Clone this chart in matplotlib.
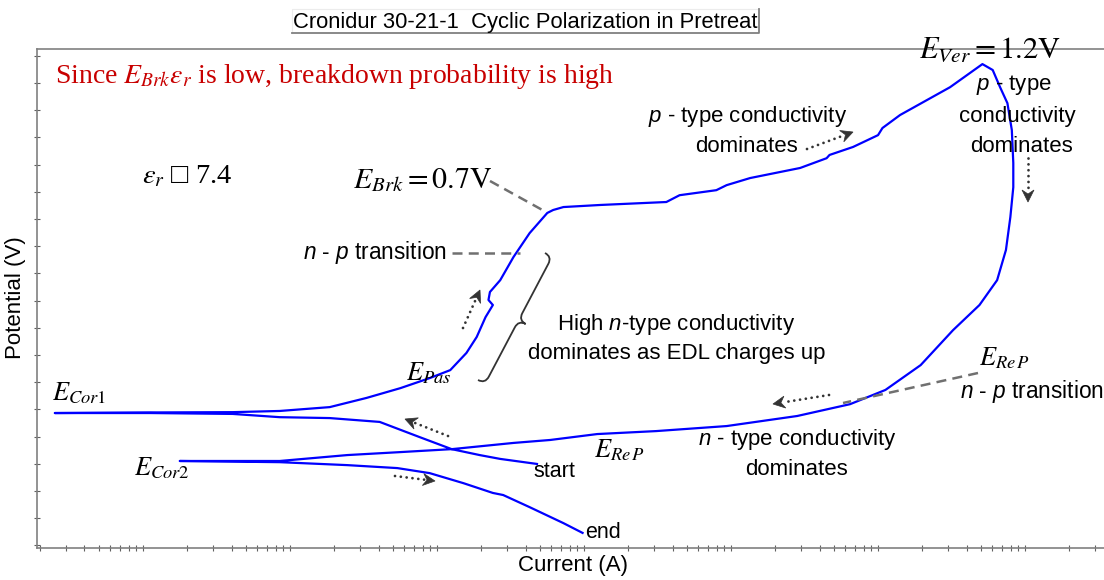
import numpy as np
import matplotlib.pyplot as plt
from matplotlib.lines import Line2D
from matplotlib.path import Path
from matplotlib.patches import PathPatch, Polygon
from matplotlib.ticker import LogLocator, FixedLocator, NullFormatter

plt.rcParams['font.family'] = ['Liberation Sans', 'DejaVu Sans']
plt.rcParams['mathtext.fontset'] = 'custom'
plt.rcParams['mathtext.rm'] = 'Liberation Sans'
plt.rcParams['mathtext.it'] = 'Liberation Sans:italic'
plt.rcParams['mathtext.bf'] = 'Liberation Sans:bold'

# scan: log10(current / A) and potential (V), in scan order
start_log_i = [-6.32, -6.57, -6.71, -6.90, -7.12, -7.39, -7.73, -8.07, -8.39, -8.95, -9.29, -9.60]
start_v = [-0.151, -0.134, -0.121, -0.101, -0.060, -0.009, 0.004, 0.007, 0.018, 0.021, 0.021, 0.021]

anodic_log_i = [-9.29, -8.95, -8.39, -8.07, -7.73, -7.48, -7.25, -7.05, -6.91, -6.80,
                -6.73, -6.67, -6.62, -6.65, -6.64, -6.57, -6.48, -6.37, -6.25, -6.21,
                -6.14, -5.89, -5.44, -5.35, -5.10, -5.03, -4.87, -4.53, -4.35, -4.33,
                -4.17, -4.00, -3.97, -3.85, -3.51, -3.29]
anodic_v = [0.022, 0.023, 0.024, 0.028, 0.041, 0.072, 0.105, 0.139, 0.166, 0.224,
            0.278, 0.345, 0.386, 0.403, 0.430, 0.470, 0.548, 0.629, 0.697, 0.707,
            0.717, 0.724, 0.734, 0.757, 0.774, 0.791, 0.815, 0.849, 0.882, 0.893,
            0.920, 0.960, 0.984, 1.028, 1.122, 1.200]

reverse_log_i = [-3.22, -3.17, -3.12, -3.09, -3.08, -3.08, -3.10, -3.13, -3.19, -3.31,
                 -3.49, -3.71, -3.95, -4.19, -4.55, -5.03, -5.51, -5.91, -6.23, -6.48,
                 -6.90, -7.25, -7.61, -8.07, -8.41, -8.75]
reverse_v = [1.180, 1.122, 1.068, 0.977, 0.866, 0.784, 0.683, 0.572, 0.470, 0.386,
             0.301, 0.183, 0.099, 0.051, 0.011, -0.023, -0.040, -0.050, -0.070, -0.080,
             -0.101, -0.111, -0.121, -0.141, -0.141, -0.141]

cathodic_log_i = [-8.41, -8.07, -7.61, -7.27, -7.05, -6.82, -6.62, -6.55, -6.37, -6.14, -6.01]
cathodic_v = [-0.143, -0.145, -0.155, -0.165, -0.182, -0.216, -0.249, -0.256, -0.297, -0.351, -0.384]

log_i = np.concatenate([start_log_i, anodic_log_i, reverse_log_i, cathodic_log_i])
volts = np.concatenate([start_v, anodic_v, reverse_v, cathodic_v])
current = 10 ** log_i

W, H = 1104, 580


def fx(x):
    return x / W


def fy(y):
    return 1 - y / H


fig = plt.figure(figsize=(W / 100, H / 100), dpi=100)
ax = fig.add_axes([fx(37), fy(548), (W - 37) / W, (548 - 49) / H])
ax.plot(current, volts, color='#0000ff', lw=1.6, solid_joinstyle='round')
ax.set_xscale('log')
ax.set_xlim(10 ** -9.721, 10 ** -2.463)
ax.set_ylim(-0.435, 1.251)

for side in ['left', 'bottom', 'top']:
    ax.spines[side].set_color('#808080')
    ax.spines[side].set_linewidth(1.2)
ax.spines['right'].set_visible(False)

ax.xaxis.set_major_locator(LogLocator(base=10, numticks=20))
ax.xaxis.set_minor_locator(LogLocator(base=10, subs=np.arange(2, 10), numticks=200))
ax.xaxis.set_minor_formatter(NullFormatter())
ax.yaxis.set_major_locator(FixedLocator(np.linspace(-0.426, 1.228, 19)))
ax.tick_params(which='both', direction='inout', length=4, width=0.8, color='#606060',
               labelbottom=False, labelleft=False, top=False, right=False)

fig.text(fx(573), fy(566), 'Current (A)', fontsize=16, ha='center', va='center')
fig.text(fx(16), fy(298), 'Potential (V)', fontsize=16, ha='center', va='center', rotation=90)

# title with its half-drawn frame
fig.text(fx(293), fy(28), 'Cronidur 30-21-1  Cyclic Polarization in Pretreat',
         fontsize=15.8, ha='left', va='baseline')
fig.add_artist(Line2D([fx(292), fx(292), fx(758)], [fy(33), fy(9), fy(9)],
                      transform=fig.transFigure, color='#ececec', lw=0.8))
fig.add_artist(Line2D([fx(292), fx(759), fx(759)], [fy(33), fy(33), fy(9)],
                      transform=fig.transFigure, color='#808080', lw=1.3))

serif_fam = ['Liberation Serif', 'DejaVu Sans']


def serif(x, y, s, size=20, color='black'):
    fig.text(fx(x), fy(y), s, fontsize=size, color=color, family=serif_fam,
             math_fontfamily='stix', ha='left', va='baseline')


def sans(x, y, s, size=16, ha='left'):
    fig.text(fx(x), fy(y), s, fontsize=size, ha=ha, va='baseline')


serif(55, 83, r'Since $E_{Brk}\varepsilon_r$ is low, breakdown probability is high',
      size=20, color='#c80000')
serif(142, 183, '$\\varepsilon_r$ \u25a1 7.4', size=20.5)
serif(353, 188, r'$E_{Brk}=0.7\mathrm{V}$', size=21.5)
serif(919, 58, r'$E_{Ver}=1.2\mathrm{V}$', size=22)
serif(52, 400, r'$E_{Cor1}$', size=19)
serif(134, 475, r'$E_{Cor2}$', size=19)
serif(406, 380, r'$E_{Pas}$', size=19)
serif(594, 457, r'$E_{Re\,P}$', size=19)
serif(979, 365, r'$E_{Re\,P}$', size=19)

sans(303, 259, '$n$ - $p$ transition', size=16.3)
sans(960, 398, '$n$ - $p$ transition', size=16.3)
sans(676, 330, 'High $n$-type conductivity', ha='center')
sans(677, 359, 'dominates as EDL charges up', ha='center')
sans(748, 122, '$p$ - type conductivity', ha='center')
sans(746, 152, 'dominates', ha='center')
sans(1014, 90, '$p$ - type', ha='center')
sans(1017, 122, 'conductivity', ha='center')
sans(1021, 152, 'dominates', ha='center')
sans(797, 445, '$n$ - type conductivity', ha='center')
sans(796, 475, 'dominates', ha='center')
sans(533, 477, 'start', size=15.5)
sans(585, 538, 'end', size=15.5)


def dashed(x0, y0, x1, y1):
    fig.add_artist(Line2D([fx(x0), fx(x1)], [fy(y0), fy(y1)], transform=fig.transFigure,
                          color='#707070', lw=1.8, linestyle=(0, (4, 2.5))))


dashed(490, 181, 546, 212)
dashed(452, 253, 520, 253)
dashed(978, 373, 843, 403)


def dotted_arrow(x0, y0, x1, y1, color='#333333'):
    d = np.array([x1 - x0, y1 - y0], float)
    u = d / np.hypot(*d)
    n = np.array([-u[1], u[0]])
    tip = np.array([x1, y1], float)
    back = tip - u * 12
    notch = tip - u * 8
    shaft_end = tip - u * 11
    fig.add_artist(Line2D([fx(x0), fx(shaft_end[0])], [fy(y0), fy(shaft_end[1])],
                          transform=fig.transFigure, color=color, lw=2.0,
                          linestyle=(0, (0.01, 2.1)), dash_capstyle='round'))
    pts = [tip, back + n * 6, notch, back - n * 6]
    fig.add_artist(Polygon([(fx(p[0]), fy(p[1])) for p in pts], closed=True,
                           transform=fig.transFigure, facecolor=color, edgecolor=color, lw=0.5))


dotted_arrow(463, 328, 480, 290)
dotted_arrow(448, 436, 405, 419)
dotted_arrow(395, 476, 435, 481)
dotted_arrow(807, 149, 853, 132)
dotted_arrow(1028, 158, 1028, 202)
dotted_arrow(829, 395, 773, 404)


def brace(A, B, w):
    A = np.array(A, float)
    B = np.array(B, float)
    u = (B - A) / np.hypot(*(B - A))
    n = np.array([u[1], -u[0]])
    h = w / 2
    M = (A + B) / 2
    verts = [A, A + n * h, A + u * h + n * h, M - u * h + n * h, M + n * h, M + n * w,
             M + n * h, M + u * h + n * h, B - u * h + n * h, B + n * h, B]
    codes = [Path.MOVETO, Path.CURVE3, Path.CURVE3, Path.LINETO, Path.CURVE3, Path.CURVE3,
             Path.CURVE3, Path.CURVE3, Path.LINETO, Path.CURVE3, Path.CURVE3]
    verts = [(fx(v[0]), fy(v[1])) for v in verts]
    fig.add_artist(PathPatch(Path(verts, codes), transform=fig.transFigure,
                             facecolor='none', edgecolor='#333333', lw=1.3))


brace((545, 253), (478, 380), 16)

fig.savefig('out.png', dpi=100)
